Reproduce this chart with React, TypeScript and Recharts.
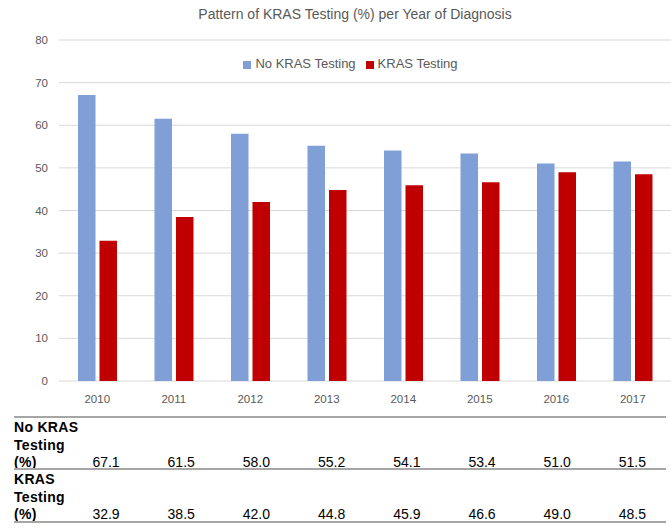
import React from "react"
import { BarChart, Bar, XAxis, YAxis, CartesianGrid, Legend } from "recharts"

const years = ["2010", "2011", "2012", "2013", "2014", "2015", "2016", "2017"]
const noKras = [67.1, 61.5, 58.0, 55.2, 54.1, 53.4, 51.0, 51.5]
const kras = [32.9, 38.5, 42.0, 44.8, 45.9, 46.6, 49.0, 48.5]
const yTicks = [0, 10, 20, 30, 40, 50, 60, 70, 80]
const seriesOrder = ["No KRAS Testing", "KRAS Testing"]

const noKrasLabel = ["No KRAS", "Testing", "(%)"]
const krasLabel = ["KRAS", "Testing", "(%)"]

const data = years.map((year, i) => ({ year, noKras: noKras[i], kras: kras[i] }))

const FONT = "'Liberation Sans', Arial, sans-serif"
const BLUE = "#7f9fd6"
const RED = "#c00000"
const GREY_TEXT = "#595959"

// table below the plot (positions of columns under each year)
const colCenter = (i: number) => 106 + i * 75.2

function TableRow({ label, values, top }: { label: string[]; values: number[]; top: number }) {
    return (
        <>
            {label.map((line, k) => (
                <div
                    key={line + k}
                    style={{
                        position: "absolute",
                        left: 14,
                        top: top + k * 17.5,
                        height: 17.5,
                        lineHeight: "17.5px",
                        fontSize: 14,
                        fontWeight: "bold",
                        color: "#000",
                        letterSpacing: 0.3,
                    }}
                >
                    {line}
                </div>
            ))}
            {values.map((v, i) => (
                <div
                    key={i}
                    style={{
                        position: "absolute",
                        left: colCenter(i) - 30,
                        width: 60,
                        textAlign: "center",
                        top: top + 2 * 17.5,
                        height: 17.5,
                        lineHeight: "17.5px",
                        fontSize: 14,
                        color: "#000",
                    }}
                >
                    {v.toFixed(1)}
                </div>
            ))}
        </>
    )
}

const Rule = ({ top }: { top: number }) => (
    <div style={{ position: "absolute", left: 14, width: 652, top: top - 1, height: 2, background: "#a6a6a6" }} />
)

export default function App() {
    return (
        <div
            style={{
                position: "absolute",
                left: 0,
                top: 0,
                width: 671,
                height: 529,
                background: "#fff",
                fontFamily: FONT,
                overflow: "hidden",
            }}
        >
            <div
                style={{
                    position: "absolute",
                    left: 0,
                    width: 710,
                    top: 6,
                    textAlign: "center",
                    fontSize: 14,
                    color: GREY_TEXT,
                }}
            >
                Pattern of KRAS Testing (%) per Year of Diagnosis
            </div>

            {/* legend sits inside the plot, so its height is taken back out of the top margin */}
            <BarChart
                width={671}
                height={410}
                data={data}
                margin={{ top: 25, right: 0, bottom: 0, left: 0 }}
                barGap={4}
                barSize={17.5}
                style={{ fontFamily: FONT }}
            >
                <CartesianGrid vertical={false} stroke="#d9d9d9" />
                <XAxis
                    dataKey="year"
                    axisLine={false}
                    tickLine={false}
                    height={29}
                    tickMargin={8}
                    tick={{ fill: GREY_TEXT, fontSize: 11.5 }}
                />
                <YAxis
                    domain={[0, 80]}
                    ticks={yTicks}
                    width={59}
                    axisLine={false}
                    tickLine={false}
                    tickMargin={5}
                    tick={{ fill: GREY_TEXT, fontSize: 11.5 }}
                />
                <Legend
                    verticalAlign="top"
                    align="center"
                    iconType="square"
                    iconSize={8}
                    itemSorter={(item: any) => seriesOrder.indexOf(item.value)}
                    wrapperStyle={{ top: 56, left: 20, width: 671, fontSize: 13, color: GREY_TEXT }}
                    formatter={(value) => <span style={{ color: GREY_TEXT }}>{value}</span>}
                />
                <Bar dataKey="noKras" name="No KRAS Testing" fill={BLUE} isAnimationActive={false} />
                <Bar dataKey="kras" name="KRAS Testing" fill={RED} isAnimationActive={false} />
            </BarChart>

            <Rule top={417} />
            <TableRow label={noKrasLabel} values={noKras} top={419} />
            <Rule top={469} />
            <TableRow label={krasLabel} values={kras} top={471} />
            <Rule top={522} />
        </div>
    )
}
